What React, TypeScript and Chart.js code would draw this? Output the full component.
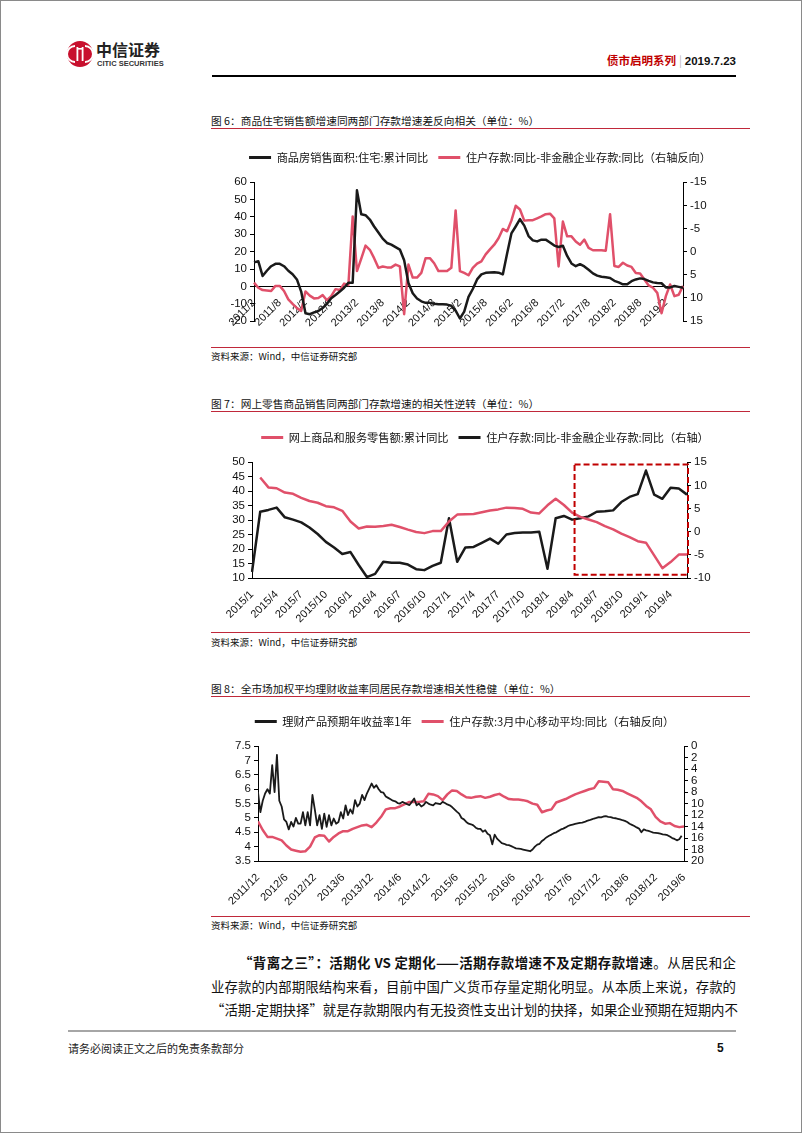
import React, { useEffect, useRef } from 'react';
import { Chart, registerables } from 'chart.js';

Chart.register(...registerables);

const CJK = '"Noto Sans CJK SC", "Noto Sans", sans-serif';
const NUM = '"Liberation Sans", Arial, sans-serif';
const RED = '#E0506A';
const BLACK = '#1a1a1a';
const RULE_RED = '#C0283A';

// ---------- Figure 6 ----------
const F6_START_YEAR = 2011;
const F6_START_MONTH = 2;
const F6_TICKS = ['2011/2', '2011/8', '2012/2', '2012/8', '2013/2', '2013/8', '2014/2', '2014/8', '2015/2', '2015/8', '2016/2', '2016/8', '2017/2', '2017/8', '2018/2', '2018/8', '2019/2'];
const F6_SALES = [
  13.8, 14.5, 6, 9, 11.6, 13, 13, 11.6, 9, 7, 4, -3,
  -15.5, -16, -15, -14.2, -12.5, -10, -6.8, -5, -3, -0.8, 2.1, 2.1,
  55.3, 41.5, 41, 38.5, 34.5, 31, 27.5, 25, 24, 22.6, 21.2, 15,
  2, -4, -7, -8.6, -9.5, -9.5, -10, -10.3, -10.3, -10.5, -11.2, -14,
  -18.5, -14.5, -6, -1.5, 4, 6.9, 7.8, 8, 8.2, 7.9, 6.9, 19,
  30.5, 34.5, 38.7, 35, 29, 26.5, 25.9, 26.9, 26.9, 25.3, 23.5, 22.7,
  23.4, 17.5, 13.2, 11.6, 12.8, 11.5, 9.6, 7.5, 6.2, 5.5, 5.2, 4.8,
  3.2, 2.3, 1.2, 1.2, 3, 4, 4.6, 4.2, 3.2, 2.3, 2, 1.8,
  -0.6, -0.6, 0.2, -0.3, -0.8,
];
const F6_GAP = [
  6.7, 7.8, 8.3, 8.4, 8.5, 7.4, 7.4, 8.5, 10.3, 11.3, 12.2, 12.8,
  8.6, 9.5, 10.1, 10, 9.4, 10.5, 9.6, 8.1, 8.3, 6.9, 7.2, -7.6,
  4.2, 1.5, -1.3, -0.4, 1.4, 3.5, 3.2, 3.4, 3.4, 2.8, 3.2, 13.5,
  2.8, 5.6, 5.6, 4.6, 1.4, 1.4, 2.5, 4.2, 4.2, 4.2, 3.5, -8.9,
  4.2, 4.6, 5.1, 3.5, 2.6, 2.1, 0.6, -0.5, -1.5, -2.9, -4.9, -4.4,
  -6.7, -9.9, -9.1, -6.7, -6.8, -6.8, -7.2, -7.6, -8.1, -8.2, -7.2, 3.2,
  -6.5, -3.3, -3.3, -2.2, -1.5, -2.6, -0.8, -0.3, -0.3, -0.3, -0.2, -8.1,
  3.1, 3.3, 2.4, 3, 3.3, 4.6, 4.7, 6, 7.3, 7.8, 8.9, 13.3,
  9.6, 7.1, 9.6, 9.3, 7.4,
];
const F6_NAMES = ['商品房销售面积:住宅:累计同比', '住户存款:同比-非金融企业存款:同比（右轴反向）'];

// ---------- Figure 7 ----------
const F7_START_YEAR = 2015;
const F7_START_MONTH = 1;
const F7_ONLINE = [
  null, 44.7, 41.3, 41, 39.5, 39.1, 37.7, 36.6, 36, 34.8, 34.4, 33.2,
  29.5, 27.1, 27.8, 27.7, 28, 28.4, 27.6, 26.7, 25.9, 25.5, 26.2, 26.2,
  29.5, 31.9, 32, 32.1, 32.7, 33.3, 33.7, 34.3, 34.2, 33.9, 32.6, 32.3,
  35.1, 37.4, 35.2, 32.6, 31.1, 30.2, 29.3, 27.9, 26.8, 25.3, 24.1, 22.7,
  22.2, 17.8, 13.4, 15.5, 18.1, 18.1,
];
const F7_GAP = [
  -8.7, 4.3, 4.7, 5.2, 3.1, 2.6, 2, 0.9, -0.5, -2.2, -3.4, -4.8,
  -4.4, -7.2, -9.8, -9.1, -6.5, -6.7, -6.7, -7.1, -8.1, -8.3, -7.4, -6.7,
  2.9, -6.5, -3.4, -3.3, -2.4, -1.5, -2.6, -0.6, -0.3, -0.2, -0.2, 0,
  -8, 2.9, 3.4, 2.6, 2.9, 3.3, 4.3, 4.4, 4.6, 6.4, 7.5, 8.1,
  13.2, 8, 7.1, 9.5, 9.3, 8,
];
const F7_NAMES = ['网上商品和服务零售额:累计同比', '住户存款:同比-非金融企业存款:同比（右轴）'];
const F7_BOX = { fromIndex: 39.3, top: 14.5, bottom: -9.3 };

// ---------- Figure 8 ----------
// x unit: months since 2011/12
const F8_TICKS = ['2011/12', '2012/6', '2012/12', '2013/6', '2013/12', '2014/6', '2014/12', '2015/6', '2015/12', '2016/6', '2016/12', '2017/6', '2017/12', '2018/6', '2018/12', '2019/6'];
// half-month samples of the 1-year wealth product yield
const F8_YIELD = [
  5.9, 5.2, 5.6, 5.85, 6.0, 5.85, 6.84, 5.9, 7.2, 5.6,
  5.4, 4.95, 4.86, 4.6, 4.86, 4.7, 5.0, 4.8, 4.8, 5.2,
  4.74, 5.2, 4.74, 5.8, 5.3, 4.74, 5.1, 4.62, 5.15, 4.69,
  5.1, 4.74, 4.98, 4.8, 4.86, 5.2, 4.98, 5.44, 5.1, 5.3,
  5.15, 5.62, 5.4, 5.5, 5.8, 5.62, 5.85, 6.02, 6.2, 6.05,
  6.14, 6.0, 5.9, 5.88, 5.75, 5.7, 5.65, 5.6, 5.58, 5.52,
  5.5, 5.56, 5.52, 5.48, 5.45, 5.56, 5.68, 5.44, 5.5, 5.4,
  5.45, 5.56, 5.5, 5.46, 5.44, 5.52, 5.5, 5.48, 5.56, 5.52,
  5.47, 5.44, 5.38, 5.3, 5.22, 5.15, 5.0, 4.95, 4.86, 4.8,
  4.78, 4.74, 4.66, 4.62, 4.62, 4.52, 4.57, 4.45, 4.4, 4.08,
  4.42, 4.28, 4.2, 4.12, 4.1, 4.06, 4.05, 4.02, 3.98, 3.94,
  3.93, 3.92, 3.9, 3.88, 3.86, 3.84, 3.9, 4.0, 4.07, 4.1,
  4.2, 4.26, 4.33, 4.38, 4.42, 4.47, 4.5, 4.55, 4.6, 4.63,
  4.67, 4.72, 4.75, 4.77, 4.79, 4.81, 4.83, 4.84, 4.86, 4.9,
  4.92, 4.95, 4.98, 5.0, 5.03, 5.02, 5.05, 5.06, 5.04, 5.03,
  5.0, 4.99, 4.97, 4.95, 4.92, 4.9, 4.86, 4.8, 4.76, 4.72,
  4.67, 4.63, 4.5, 4.6, 4.57, 4.55, 4.52, 4.49, 4.48, 4.47,
  4.45, 4.43, 4.42, 4.4, 4.35, 4.3, 4.27, 4.22, 4.26, 4.38,
];
// monthly household deposit growth (3m centred MA)
const F8_DEPOSIT = [
  13.1, 14.6, 15.8, 15.8, 16.1, 16.4, 17.3, 18, 18.2, 18.4, 18.3, 17.5,
  15.9, 15.5, 15.6, 16.6, 15.8, 15.2, 14.8, 14.8, 14.4, 14.1, 13.8, 13.7,
  14.1, 13.3, 12.3, 11, 10.8, 10.8, 10.5, 10.1, 9.7, 9.7, 9.7, 9.6,
  8.3, 8.4, 8.7, 9.4, 8.4, 7.7, 7.8, 8.4, 8.9, 9, 8.8, 8.7,
  9, 8.8, 8.5, 8.3, 8.8, 9.2, 9.3, 9.3, 9.4, 9.6, 10, 10.2,
  11.5, 11.2, 11, 9.8, 9.5, 9.2, 8.8, 8.4, 8.1, 7.8, 7.5, 7.3,
  6.1, 6.2, 6.3, 7.5, 7.6, 7.8, 8.2, 8.6, 9, 9.6, 10.4, 11,
  12.3, 13.1, 13.5, 13.4, 13.9, 14.1, 14,
];
const F8_NAMES = ['理财产品预期年收益率1年', '住户存款:3月中心移动平均:同比（右轴反向）'];

// ---------- helpers ----------
function monthSeq(year: number, month: number, n: number): string[] {
  const out: string[] = [];
  for (let i = 0; i < n; i++) {
    const t = month - 1 + i;
    out.push(`${year + Math.floor(t / 12)}/${(t % 12) + 1}`);
  }
  return out;
}

function legendItems(chart: any) {
  return chart.data.datasets.map((ds: any, i: number) => ({
    text: ds.label,
    fillStyle: ds.borderColor,
    strokeStyle: ds.borderColor,
    lineWidth: 0,
    hidden: false,
    datasetIndex: i,
    fontColor: '#111',
  }));
}

function legendGap(extra: number) {
  return {
    id: 'legendGap',
    beforeInit(chart: any) {
      const legend = chart.legend;
      if (!legend) return;
      const orig = legend.fit;
      legend.fit = function () {
        orig.call(this);
        this.height += extra;
      };
    },
  };
}

function yAxis(opts: any, width: number) {
  return {
    ...opts,
    afterFit: (s: any) => {
      s.width = width;
    },
    ticks: {
      color: '#111',
      font: { family: NUM, size: 11.5 },
      padding: 3,
      autoSkip: false,
      ...(opts.ticks || {}),
    },
    grid: { display: true, drawOnChartArea: false, drawTicks: true, tickLength: 4, color: '#000' },
    border: { display: true, color: '#000', width: 1 },
  };
}

function baseOptions(padding: any) {
  return {
    animation: false,
    responsive: false,
    maintainAspectRatio: false,
    events: [],
    layout: { padding },
    elements: { point: { radius: 0 }, line: { tension: 0, borderJoinStyle: 'round' } },
    plugins: {
      tooltip: { enabled: false },
      legend: {
        display: true,
        position: 'top',
        align: 'center',
        labels: {
          boxWidth: 22,
          boxHeight: 3,
          padding: 10,
          color: '#111',
          font: { family: CJK, size: 11.2 },
          generateLabels: legendItems,
        },
      },
    },
  };
}

const xTickFont = { family: NUM, size: 11 };

function makeFig6(): any {
  const labels = monthSeq(F6_START_YEAR, F6_START_MONTH, F6_SALES.length);
  return {
    type: 'line',
    data: {
      labels,
      datasets: [
        { label: F6_NAMES[0], data: F6_SALES, borderColor: BLACK, backgroundColor: BLACK, borderWidth: 2.5, yAxisID: 'y' },
        { label: F6_NAMES[1], data: F6_GAP, borderColor: RED, backgroundColor: RED, borderWidth: 2.5, yAxisID: 'y1' },
      ],
    },
    options: {
      ...baseOptions({ left: 0, right: 0, top: 0, bottom: 8 }),
      scales: {
        x: {
          type: 'category',
          position: { y: 0 },
          offset: false,
          grid: { display: false },
          border: { display: true, color: '#000', width: 1 },
          ticks: {
            autoSkip: false,
            minRotation: 45,
            maxRotation: 45,
            padding: 2,
            color: '#111',
            font: xTickFont,
            callback: (_v: any, i: number) => (F6_TICKS.includes(labels[i]) ? labels[i] : null),
          },
        },
        y: yAxis({ position: 'left', min: -20, max: 60, ticks: { stepSize: 10 } }, 43),
        y1: yAxis({ position: 'right', reverse: true, min: -15, max: 15, ticks: { stepSize: 5 } }, 66),
      },
    },
    plugins: [legendGap(9)],
  };
}

function makeFig7(): any {
  const labels = monthSeq(F7_START_YEAR, F7_START_MONTH, F7_GAP.length);
  const boxPlugin = {
    id: 'box7',
    afterDatasetsDraw(chart: any) {
      const { ctx, chartArea, scales } = chart;
      const x0 = scales.x.getPixelForValue(F7_BOX.fromIndex);
      const x1 = chartArea.right + 1;
      const y0 = scales.y1.getPixelForValue(F7_BOX.top);
      const y1 = scales.y1.getPixelForValue(F7_BOX.bottom);
      ctx.save();
      ctx.setLineDash([6, 3]);
      ctx.lineWidth = 2;
      ctx.strokeStyle = '#C00000';
      ctx.strokeRect(x0, y0, x1 - x0, y1 - y0);
      ctx.restore();
    },
  };
  return {
    type: 'line',
    data: {
      labels,
      datasets: [
        { label: F7_NAMES[0], data: F7_ONLINE, borderColor: RED, backgroundColor: RED, borderWidth: 2.5, yAxisID: 'y', spanGaps: true },
        { label: F7_NAMES[1], data: F7_GAP, borderColor: BLACK, backgroundColor: BLACK, borderWidth: 2.5, yAxisID: 'y1' },
      ],
    },
    options: {
      ...baseOptions({ left: 0, right: 0, top: 0, bottom: 0 }),
      scales: {
        x: {
          type: 'category',
          position: 'bottom',
          offset: false,
          afterFit: (s: any) => {
            s.height = 45;
          },
          grid: { display: false },
          border: { display: true, color: '#000', width: 1 },
          ticks: {
            autoSkip: false,
            minRotation: 45,
            maxRotation: 45,
            padding: 2,
            color: '#111',
            font: xTickFont,
            callback: (_v: any, i: number) => (i % 3 === 0 ? labels[i] : null),
          },
        },
        y: yAxis({ position: 'left', min: 10, max: 50, ticks: { stepSize: 5 } }, 32),
        y1: yAxis({ position: 'right', min: -10, max: 15, ticks: { stepSize: 5 } }, 63),
      },
    },
    plugins: [legendGap(9), boxPlugin],
  };
}

function makeFig8(): any {
  const yieldPts = F8_YIELD.map((v, k) => ({ x: k / 2, y: v }));
  const depPts = F8_DEPOSIT.map((v, m) => ({ x: m, y: v }));
  return {
    type: 'line',
    data: {
      datasets: [
        { label: F8_NAMES[0], data: yieldPts, borderColor: BLACK, backgroundColor: BLACK, borderWidth: 1.8, yAxisID: 'y' },
        { label: F8_NAMES[1], data: depPts, borderColor: RED, backgroundColor: RED, borderWidth: 2.5, yAxisID: 'y1' },
      ],
    },
    options: {
      ...baseOptions({ left: 0, right: 0, top: 0, bottom: 0 }),
      scales: {
        x: {
          type: 'linear',
          position: 'bottom',
          min: 0,
          max: 90,
          afterFit: (s: any) => {
            s.height = 48;
          },
          grid: { display: false },
          border: { display: true, color: '#000', width: 1 },
          ticks: {
            stepSize: 6,
            autoSkip: false,
            minRotation: 45,
            maxRotation: 45,
            padding: 2,
            color: '#111',
            font: xTickFont,
            callback: (v: any) => F8_TICKS[Math.round(Number(v) / 6)] ?? '',
          },
        },
        y: yAxis({ position: 'left', min: 3.5, max: 7.5, ticks: { stepSize: 0.5, callback: (v: any) => String(Math.round(Number(v) * 10) / 10) } }, 47),
        y1: yAxis({ position: 'right', reverse: true, min: 0, max: 20, ticks: { stepSize: 2 } }, 34),
      },
    },
    plugins: [legendGap(9)],
  };
}

function ChartCanvas({ left, top, width, height, make }: any) {
  const ref = useRef<HTMLCanvasElement>(null);
  useEffect(() => {
    const chart = new Chart(ref.current as HTMLCanvasElement, make());
    return () => chart.destroy();
  }, []);
  return (
    <canvas
      ref={ref}
      width={width}
      height={height}
      style={{ position: 'absolute', left, top, width, height }}
    />
  );
}

function Text({ x, y, size, children, style }: any) {
  return (
    <div
      style={{
        position: 'absolute',
        left: x,
        top: y - size,
        height: size * 2,
        lineHeight: `${size * 2}px`,
        fontSize: size,
        fontFamily: CJK,
        color: '#111',
        whiteSpace: 'nowrap',
        ...style,
      }}
    >
      {children}
    </div>
  );
}

function Rule({ x, y, w, h, color }: any) {
  return <div style={{ position: 'absolute', left: x, top: y, width: w, height: h, background: color }} />;
}

function Logo() {
  return (
    <svg style={{ position: 'absolute', left: 66, top: 40 }} width={28} height={28} viewBox="0 0 28 28">
      <circle cx={14} cy={14} r={13} fill="#C8102E" />
      <path d="M9 6 A8 8 0 0 0 9 22" stroke="#fff" strokeWidth={2} fill="none" />
      <path d="M19 6 A8 8 0 0 1 19 22" stroke="#fff" strokeWidth={2} fill="none" />
      <rect x={10.5} y={7} width={1.8} height={14} fill="#fff" />
      <rect x={15.7} y={7} width={1.8} height={14} fill="#fff" />
      <rect x={11} y={8} width={6} height={1.6} fill="#fff" />
    </svg>
  );
}

const bodyLine: any = {
  position: 'absolute',
  height: 20,
  lineHeight: '20px',
  fontFamily: CJK,
  fontSize: 13.4,
  color: '#111',
  textAlign: 'justify',
  textAlignLast: 'justify',
  whiteSpace: 'nowrap',
};

export default function App() {
  return (
    <div style={{ position: 'absolute', left: 0, top: 0, width: 802, height: 1133, background: '#fff', overflow: 'hidden' }}>
      <div style={{ position: 'absolute', left: 0, top: 0, width: 802, height: 1133, boxSizing: 'border-box', border: '1px solid #8a8a8a' }} />
      {/* header */}
      <Logo />
      <Text x={96} y={49} size={16} style={{ fontWeight: 700, color: '#222' }}>中信证券</Text>
      <Text x={97} y={63} size={7.5} style={{ fontFamily: '"Liberation Sans Narrow", "Liberation Sans", sans-serif', fontWeight: 700, color: '#333' }}>CITIC SECURITIES</Text>
      <div style={{ position: 'absolute', right: 802 - 736, top: 51, height: 18, lineHeight: '18px', whiteSpace: 'nowrap', fontFamily: CJK, fontSize: 11.5 }}>
        <span style={{ color: '#C00000', fontWeight: 700 }}>债市启明系列</span>
        <span style={{ color: '#999', margin: '0 3px', fontWeight: 300 }}>|</span>
        <span style={{ color: '#111', fontWeight: 700, fontFamily: NUM }}>2019.7.23</span>
      </div>
      <Rule x={212} y={75} w={524} h={2} color="#000" />

      {/* figure 6 */}
      <Text x={211} y={121} size={10.7}>图 6：商品住宅销售额增速同两部门存款增速差反向相关（单位：%）</Text>
      <Rule x={211} y={128} w={539} h={1} color={RULE_RED} />
      <ChartCanvas left={211} top={142} width={538} height={189} make={makeFig6} />
      <Rule x={211} y={347} w={539} h={1} color={RULE_RED} />
      <Text x={211} y={356} size={9.5}>资料来源：Wind，中信证券研究部</Text>

      {/* figure 7 */}
      <Text x={211} y={404} size={10.7}>图 7：网上零售商品销售同两部门存款增速的相关性逆转（单位：%）</Text>
      <Rule x={211} y={411} w={539} h={1} color={RULE_RED} />
      <ChartCanvas left={220} top={422} width={530} height={201} make={makeFig7} />
      <Rule x={211} y={632} w={539} h={1} color={RULE_RED} />
      <Text x={211} y={642} size={9.5}>资料来源：Wind，中信证券研究部</Text>

      {/* figure 8 */}
      <Text x={211} y={689} size={10.7}>图 8：全市场加权平均理财收益率同居民存款增速相关性稳健（单位：%）</Text>
      <Rule x={211} y={696} w={539} h={1} color={RULE_RED} />
      <ChartCanvas left={211} top={706} width={507} height={203} make={makeFig8} />
      <Rule x={211} y={916} w={539} h={1} color={RULE_RED} />
      <Text x={211} y={925} size={9.5}>资料来源：Wind，中信证券研究部</Text>

      {/* body text */}
      <div style={{ ...bodyLine, left: 239, top: 952, width: 497 }}>
        <span style={{ fontWeight: 700 }}>“背离之三”：活期化 VS 定期化——活期存款增速不及定期存款增速</span>。从居民和企
      </div>
      <div style={{ ...bodyLine, left: 211, top: 976, width: 525 }}>
        业存款的内部期限结构来看，目前中国广义货币存量定期化明显。从本质上来说，存款的
      </div>
      <div style={{ ...bodyLine, left: 211, top: 999, width: 525 }}>
        “活期-定期抉择”就是存款期限内有无投资性支出计划的抉择，如果企业预期在短期内不
      </div>

      {/* footer */}
      <Rule x={68} y={1030} w={668} h={2} color="#A6A6A6" />
      <Text x={68} y={1048} size={11} style={{ color: '#222' }}>请务必阅读正文之后的免责条款部分</Text>
      <Text x={717} y={1048} size={12} style={{ fontWeight: 700, fontFamily: NUM, color: '#111' }}>5</Text>
    </div>
  );
}
